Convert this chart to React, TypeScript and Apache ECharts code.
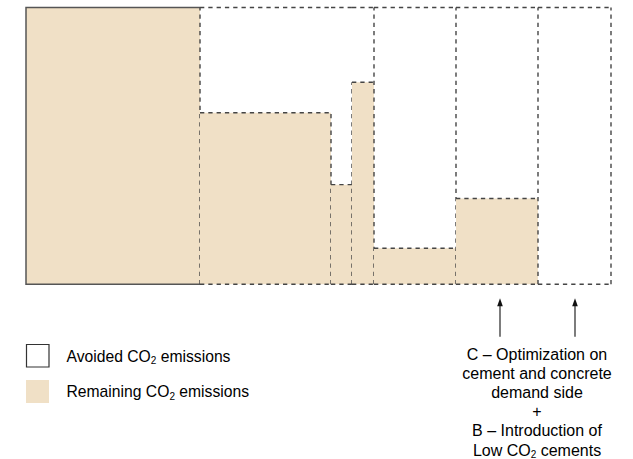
import React, { useEffect, useRef } from "react";
import * as echarts from "echarts";

// ---- data (x in relative width units, y in % of baseline emissions) ----
const columnWidths = [174, 131, 21, 22, 82, 82, 73];
const remainingCO2 = [100, 62, 36, 73, 13, 31, 0];
// columns that share one "avoided emissions" box (0 = baseline, nothing avoided)
const columnGroup = [0, 1, 1, 1, 2, 3, 4];
const baselineCO2 = 100;
// arrows point at these x positions (same units as columnWidths)
const arrowTargets = [474, 549];
const legendLabels = ["Avoided CO₂ emissions", "Remaining CO₂ emissions"];
const annotationLines = [
  "C – Optimization on",
  "cement and concrete",
  "demand side",
  "+",
  "B – Introduction of",
  "Low CO₂ cements",
];

const FONT = '"Liberation Sans", Arial, Helvetica, sans-serif';
const FILL = "#F0E0C6";
const DASH = "#454545";
const TEXT = "#222222";

const toRich = (s: string) =>
  s
    .split("₂")
    .map((p) => (p ? `{t|${p}}` : ""))
    .join("{s|2}");

export default function App() {
  const ref = useRef<HTMLDivElement>(null);

  useEffect(() => {
    const chart = echarts.init(ref.current!, null, { renderer: "svg" });

    const starts: number[] = [];
    let acc = 0;
    columnWidths.forEach((w) => {
      starts.push(acc);
      acc += w;
    });
    const total = acc;

    const columnData = columnWidths.map((w, i) => {
      const last = i === columnWidths.length - 1;
      const groupEdge = last || columnGroup[i] !== columnGroup[i + 1];
      const rightEdge = groupEdge
        ? baselineCO2
        : Math.max(remainingCO2[i], remainingCO2[i + 1]);
      return [starts[i], starts[i] + w, remainingCO2[i], rightEdge, columnGroup[i]];
    });

    const dashed = { stroke: DASH, lineWidth: 1.4, lineDash: [4.3, 4], fill: "none" };

    const rich = {
      t: { fontFamily: FONT, fontSize: 16, lineHeight: 19.2, color: TEXT },
      s: { fontFamily: FONT, fontSize: 10, lineHeight: 10, color: TEXT, verticalAlign: "bottom" },
    };
    const legendRich = {
      t: { fontFamily: FONT, fontSize: 15.7, lineHeight: 19, color: TEXT },
      s: { fontFamily: FONT, fontSize: 10, lineHeight: 10, color: TEXT, verticalAlign: "bottom" },
    };

    chart.setOption({
      animation: false,
      backgroundColor: "#ffffff",
      grid: { left: 26, top: 7.5, width: 585, height: 276.8 },
      xAxis: { type: "value", min: 0, max: total, show: false },
      yAxis: { type: "value", min: 0, max: baselineCO2, show: false },
      series: [
        {
          type: "custom",
          name: "columns",
          clip: false,
          encode: { x: [0, 1], y: 2 },
          data: columnData,
          renderItem: (params: any, api: any) => {
            const x0 = api.value(0);
            const x1 = api.value(1);
            const h = api.value(2);
            const rh = api.value(3);
            const g = api.value(4);
            const c = (x: number, y: number) => api.coord([x, y]);
            const seg = (p: number[], q: number[], style: any) => ({
              type: "line",
              shape: { x1: p[0], y1: p[1], x2: q[0], y2: q[1] },
              style,
            });
            const children: any[] = [];
            const a = c(x0, 0);
            const b = c(x1, h);
            if (h > 0) {
              children.push({
                type: "rect",
                shape: { x: a[0], y: b[1], width: b[0] - a[0], height: a[1] - b[1] },
                style: { fill: FILL },
              });
            }
            if (g === 0) {
              children.push({
                type: "polyline",
                shape: { points: [c(x1, 0), c(x0, 0), c(x0, h), c(x1, h)] },
                style: { stroke: "#555555", lineWidth: 1.5, fill: "none" },
              });
            } else {
              children.push(seg(c(x0, 0), c(x1, 0), dashed));
              if (h > 0) children.push(seg(c(x0, h), c(x1, h), dashed));
              children.push(seg(c(x0, baselineCO2), c(x1, baselineCO2), dashed));
            }
            children.push(seg(c(x1, 0), c(x1, rh), dashed));
            return { type: "group", children };
          },
        },
        {
          type: "custom",
          name: "arrows",
          clip: false,
          encode: { x: 0, y: 1 },
          data: arrowTargets.map((x) => [x, 0]),
          renderItem: (params: any, api: any) => {
            const p = api.coord([api.value(0), 0]);
            const x = p[0];
            const top = p[1] + 14;
            const bottom = p[1] + 52.5;
            return {
              type: "group",
              children: [
                {
                  type: "line",
                  shape: { x1: x, y1: top + 6, x2: x, y2: bottom },
                  style: { stroke: "#111111", lineWidth: 1.1 },
                },
                {
                  type: "polygon",
                  shape: { points: [[x, top], [x - 2.8, top + 8], [x + 2.8, top + 8]] },
                  style: { fill: "#111111" },
                },
              ],
            };
          },
        },
      ],
      graphic: [
        {
          type: "rect",
          shape: { x: 26.5, y: 344.5, width: 22.5, height: 22.5 },
          style: { fill: "#ffffff", stroke: "#333333", lineWidth: 1.2 },
        },
        {
          type: "rect",
          shape: { x: 26, y: 380, width: 23, height: 23 },
          style: { fill: FILL },
        },
        ...legendLabels.map((label, i) => ({
          type: "text",
          x: 66.5,
          y: i === 0 ? 356 : 391.5,
          style: {
            text: toRich(label),
            rich: legendRich,
            textAlign: "left",
            textVerticalAlign: "middle",
          },
        })),
        {
          type: "text",
          x: 537,
          y: 344.5,
          style: {
            text: annotationLines.map(toRich).join("\n"),
            rich,
            textAlign: "center",
            textVerticalAlign: "top",
          },
        },
      ],
    });

    return () => chart.dispose();
  }, []);

  return (
    <div
      ref={ref}
      style={{ position: "absolute", left: 0, top: 0, width: 633, height: 459 }}
    />
  );
}
